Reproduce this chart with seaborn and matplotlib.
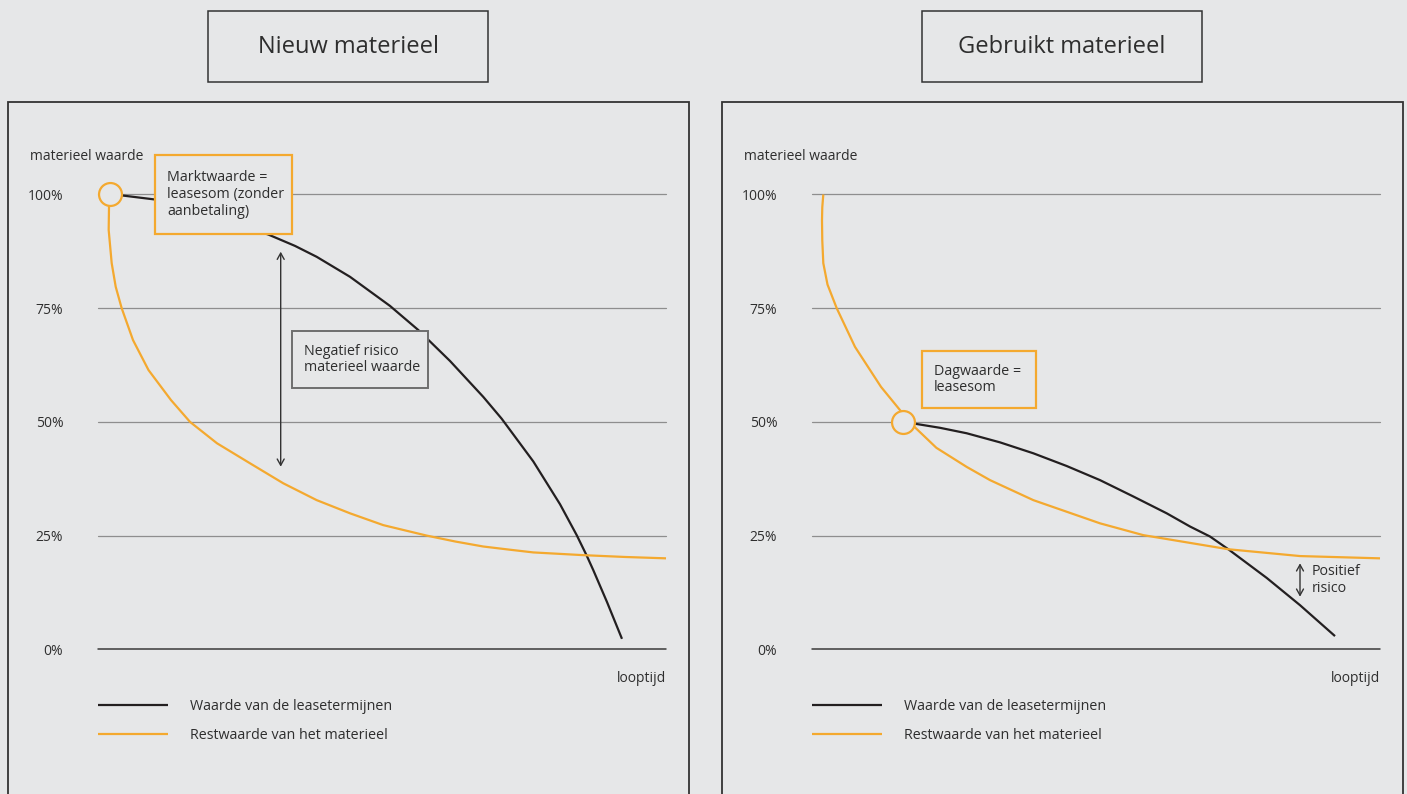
import numpy as np
import pandas as pd
import matplotlib
matplotlib.use("Agg")
import matplotlib.pyplot as plt
import matplotlib.patches as mpatches
import seaborn as sns

# ---------------- data (x = looptijd in % of term, y = materieel waarde in %) ----------------
panel_titles = ["Nieuw materieel", "Gebruikt materieel"]
series_names = ["Waarde van de leasetermijnen", "Restwaarde van het materieel"]
ytick_values = [0, 25, 50, 75, 100]
ytick_labels = ["0%", "25%", "50%", "75%", "100%"]
y_label = "materieel waarde"
x_label = "looptijd"

new_lease_x = [2.11, 4.17, 10.04, 19.72, 29.98, 34.68, 38.5, 44.37, 51.41, 56.39, 61.97,
               67.83, 71.07, 76.64, 81.34, 84.28, 86.04, 87.2, 89.61, 92.25]
new_lease_y = [100, 99.8, 98.9, 95.3, 91.2, 88.7, 86.3, 81.9, 75.5, 70.2, 63.4,
               55.5, 50.7, 41.3, 31.9, 25.1, 20.6, 17.4, 10.4, 2.3]
new_rest_x = [2.11, 1.94, 1.88, 2.41, 3.12, 4.17, 6.16, 8.89, 12.85, 16.2, 20.95, 26.76,
              32.62, 38.5, 44.37, 50.23, 57.87, 62.9, 67.83, 72.5, 76.64, 85.44, 92.8, 100]
new_rest_y = [100, 97.5, 92.2, 84.9, 79.7, 75.0, 68.0, 61.4, 54.8, 50.0, 45.3, 40.9,
              36.5, 32.8, 29.9, 27.3, 25.0, 23.7, 22.6, 21.9, 21.3, 20.7, 20.3, 20.0]

used_lease_x = [16.07, 18.13, 22.54, 27.24, 33.1, 38.96, 44.84, 50.7, 56.57, 62.45, 66.55,
                70.07, 73.29, 80.05, 85.92, 92.08]
used_lease_y = [50.0, 49.6, 48.7, 47.5, 45.5, 43.1, 40.3, 37.2, 33.6, 29.9, 27.0,
                24.8, 22.0, 15.7, 9.7, 2.9]
used_rest_x = [1.99, 1.81, 1.76, 1.81, 1.99, 2.73, 4.35, 7.57, 12.15, 15.49, 17.96, 21.9,
               27.24, 31.34, 38.96, 50.7, 58.33, 73.29, 85.92, 100]
used_rest_y = [100, 97.2, 94.3, 89.9, 84.9, 80.2, 75.0, 66.5, 57.7, 52.6, 49.0, 44.3,
               40.1, 37.2, 32.8, 27.7, 25.1, 22.0, 20.5, 20.0]

notes_new = ["Marktwaarde =\nleasesom (zonder\naanbetaling)", "Negatief risico\nmaterieel waarde"]
notes_used = ["Dagwaarde =\nleasesom", "Positief\nrisico"]

# ---------------- style ----------------
BG = "#e6e7e8"
ORANGE = "#f4a92f"
BLACK = "#231f20"
TXT = "#2e2e2e"
GRID = "#8e8e8e"
FONT = "Open Sans"

sns.set_theme(style="white")
plt.rcParams["font.family"] = [FONT, "DejaVu Sans"]
plt.rcParams["text.color"] = TXT

W, H = 1407, 794
fig = plt.figure(figsize=(W / 100, H / 100), dpi=100, facecolor=BG)


def fx(px):
    return px / W


def fy(py):
    return 1 - py / H


def rect(x0, y0, x1, y1, ec, lw, fc="none"):
    r = mpatches.Rectangle((fx(x0), fy(y1)), fx(x1) - fx(x0), fy(y0) - fy(y1),
                           transform=fig.transFigure, facecolor=fc, edgecolor=ec,
                           linewidth=lw, clip_on=False)
    fig.add_artist(r)


palette = {series_names[0]: BLACK, series_names[1]: ORANGE}

panels = [
    dict(dx=0, lx=new_lease_x, ly=new_lease_y, rx=new_rest_x, ry=new_rest_y),
    dict(dx=714, lx=used_lease_x, ly=used_lease_y, rx=used_rest_x, ry=used_rest_y),
]

for i, p in enumerate(panels):
    dx = p["dx"]
    # outer panel frame (open at the bottom) and title box
    rect(7.5 + dx, 102, 688.5 + dx, 820, "#333333", 1.3)
    rect(208 + dx, 10.5, 488 + dx, 82, "#333333", 1.1)
    fig.text(fx(348 + dx), fy(47), panel_titles[i], ha="center", va="center",
             fontsize=17, color=TXT)

    ax = fig.add_axes([fx(98 + dx), fy(649.3), 568 / W, (649.3 - 194.5) / H])
    ax.set_facecolor("none")
    ax.set_xlim(0, 100)
    ax.set_ylim(0, 100)
    for s in ax.spines.values():
        s.set_visible(False)
    ax.set_xticks([])
    ax.set_yticks(ytick_values)
    ax.set_yticklabels(ytick_labels, fontsize=10, color=TXT)
    ax.tick_params(axis="y", length=0, pad=25)
    for v in ytick_values:
        if v == 0:
            ax.axhline(v, color="#3a3a3a", lw=1.1, zorder=1, clip_on=False)
        else:
            ax.axhline(v, color=GRID, lw=0.9, zorder=1, clip_on=False)

    df = pd.concat([
        pd.DataFrame({"x": p["lx"], "y": p["ly"], "series": series_names[0]}),
        pd.DataFrame({"x": p["rx"], "y": p["ry"], "series": series_names[1]}),
    ], ignore_index=True)
    sns.lineplot(data=df, x="x", y="y", hue="series", palette=palette, sort=False,
                 estimator=None, linewidth=1.6, legend=False, ax=ax, zorder=3)
    for ln in ax.lines[-2:]:
        ln.set_clip_on(False)
        ln.set_solid_capstyle("butt")
        ln.set_solid_joinstyle("round")
    lines = ax.lines[-2:]
    ax.set_xlabel("")
    ax.set_ylabel("")

    # start-point circle
    ax.plot([p["lx"][0]], [p["ly"][0]], marker="o", markersize=16.5, mfc=BG,
            mec=ORANGE, mew=1.6, clip_on=False, zorder=5, linestyle="none")

    leg = ax.legend(lines, series_names, loc="center left",
                    bbox_to_anchor=(fx(98 + dx), fy(721)),
                    bbox_transform=fig.transFigure, frameon=False, fontsize=10.3,
                    handlelength=4.87, handletextpad=1.55, labelspacing=0.99,
                    borderpad=0, borderaxespad=0)
    for t in leg.get_texts():
        t.set_color(TXT)

    fig.text(fx(30.5 + dx), fy(156), y_label, ha="left", va="center", fontsize=10, color=TXT)
    fig.text(fx(666.5 + dx), fy(679), x_label, ha="right", va="center", fontsize=10, color=TXT)

# ---------- annotations: new equipment ----------
rect(155, 154.7, 292, 234.3, ORANGE, 1.6, fc=BG)
fig.text(fx(167), fy(194.5), notes_new[0], ha="left", va="center", fontsize=10.3,
         color=TXT, linespacing=1.15)
fig.add_artist(mpatches.FancyArrowPatch((fx(280.7), fy(251.7)), (fx(280.7), fy(466.7)),
                                        transform=fig.transFigure,
                                        arrowstyle="<->,head_length=0.45,head_width=0.25",
                                        mutation_scale=10, color="#333333", lw=1.0,
                                        shrinkA=0, shrinkB=0))
rect(291.7, 330.7, 428.3, 387.7, "#6e6e6e", 1.4, fc=BG)
fig.text(fx(303.5), fy(359.5), notes_new[1], ha="left", va="center", fontsize=10.3,
         color=TXT, linespacing=1.15)

# ---------- annotations: used equipment ----------
rect(921.7, 350.7, 1036, 407.7, ORANGE, 1.6, fc=BG)
fig.text(fx(934), fy(379.5), notes_used[0], ha="left", va="center", fontsize=10.3,
         color=TXT, linespacing=1.15)
fig.add_artist(mpatches.FancyArrowPatch((fx(1300), fy(563.3)), (fx(1300), fy(596.7)),
                                        transform=fig.transFigure,
                                        arrowstyle="<->,head_length=0.45,head_width=0.25",
                                        mutation_scale=10, color="#333333", lw=1.0,
                                        shrinkA=0, shrinkB=0))
fig.text(fx(1311.5), fy(580), notes_used[1], ha="left", va="center", fontsize=10.3,
         color=TXT, linespacing=1.15)

fig.savefig("out.png", dpi=100, facecolor=BG)
